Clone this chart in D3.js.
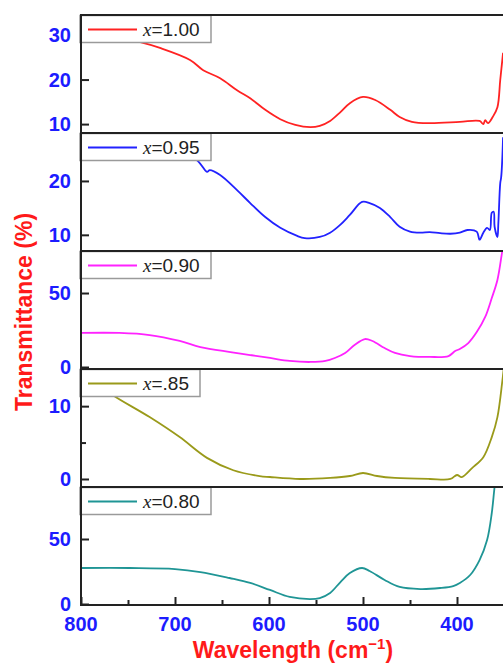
<!DOCTYPE html>
<html>
<head>
<meta charset="utf-8">
<script src="https://cdn.jsdelivr.net/npm/d3@7"></script>
<style>
  body { margin: 0; background: #fff; }
</style>
</head>
<body>
<div id="chart"></div>
<script>
// data: wavelength (cm-1) and transmittance (%)
let wl100 = [800, 770, 737, 716, 684, 670, 652, 634, 620, 604, 588, 572, 556, 546, 535, 524, 514, 500, 487, 471, 461, 448, 429, 397, 376, 372, 370, 367, 362, 357, 354, 351];
let t100  = [30.8, 29.8, 28.4, 27.1, 24.4, 22.1, 20.3, 17.6, 15.8, 13.2, 11.1, 9.8, 9.3, 9.6, 10.7, 12.7, 14.7, 16.1, 15.4, 13.2, 11.6, 10.5, 10.2, 10.5, 10.7, 10.0, 10.9, 10.2, 11.6, 13.8, 19.9, 26.0];

let wl95 = [800, 750, 700, 677, 666, 663, 652, 634, 620, 604, 588, 570, 562, 546, 535, 524, 514, 501, 493, 482, 471, 461, 450, 439, 429, 418, 407, 397, 389, 379, 376, 372, 368, 365, 363, 361, 360, 357, 356, 354, 353, 351];
let t95  = [29.5, 27.6, 25.3, 23.9, 21.7, 22.0, 21.1, 18.3, 15.9, 13.3, 11.3, 9.8, 9.4, 9.6, 10.4, 11.9, 13.7, 16.1, 15.9, 15.0, 13.3, 11.5, 10.6, 10.4, 10.5, 10.3, 10.2, 10.4, 10.9, 10.6, 9.1, 10.4, 11.3, 10.9, 14.1, 14.3, 11.5, 9.6, 12.2, 19.6, 20.7, 28.1];

let wl90 = [800, 759, 727, 695, 673, 641, 620, 599, 578, 556, 540, 530, 519, 509, 498, 490, 477, 466, 450, 429, 409, 402, 397, 388, 379, 370, 363, 357, 352, 350];
let t90  = [23.0, 23.0, 21.6, 17.6, 13.5, 10.1, 8.1, 6.1, 4.1, 3.4, 4.1, 6.1, 9.5, 14.9, 18.9, 17.6, 12.8, 9.5, 7.4, 6.8, 7.4, 10.8, 12.2, 16.2, 23.6, 33.8, 46.6, 58.8, 77.7, 85];

let wl85 = [800, 780, 766, 727, 695, 666, 638, 610, 599, 567, 535, 514, 500, 485, 466, 429, 407, 400, 395, 384, 372, 363, 357, 352, 350];
let t85  = [14.6, 12.9, 11.5, 8.5, 5.75, 2.9, 1.2, 0.4, 0.27, 0.0, 0.14, 0.41, 0.82, 0.41, 0.14, 0.0, 0.0, 0.55, 0.27, 1.5, 3.0, 5.75, 8.5, 13.2, 15.5];

let wl80 = [800, 748, 700, 673, 642, 620, 599, 578, 556, 546, 535, 524, 514, 501, 493, 477, 461, 439, 418, 404, 397, 386, 376, 368, 363, 360, 358];
let t80  = [27.7, 27.7, 26.9, 24.6, 20.0, 16.2, 10.8, 5.4, 3.8, 4.6, 8.5, 16.9, 23.8, 27.7, 25.4, 18.5, 13.1, 11.5, 12.3, 13.8, 16.2, 22.3, 33.8, 49.2, 70.0, 90.0, 100];

let legendLabels = ["=1.00", "=0.95", "=0.90", "=.85", "=0.80"];
let colors = ["#ff2222", "#2222ff", "#ff22ff", "#9a9a1a", "#1f9595"];
let yDomains = [[8, 34.5], [7.0, 28.9], [-1.35, 78.4], [-1.1, 15.1], [-0.77, 90]];
let yMajor = [[10, 20, 30], [10, 20], [0, 50], [0, 10], [0, 50]];
let yMinor = [[], [], [], [5], []];
let xMajor = [800, 700, 600, 500, 400];
let xMinor = [750, 650, 550, 450];

let series = [
  {wl: wl100, t: t100},
  {wl: wl95, t: t95},
  {wl: wl90, t: t90},
  {wl: wl85, t: t85},
  {wl: wl80, t: t80}
];

let svgWidth = 503;
let svgHeight = 663;
let left = 81, right = 504, top0 = 15, panelH = 118;

let svg = d3.select("#chart")
  .append("svg")
  .attr("width", svgWidth)
  .attr("height", svgHeight)
  .style("font-family", "Arial, 'Liberation Sans', sans-serif");

let x = d3.scaleLinear().domain([800, 350]).range([left, right]);

series.forEach(function(s, i) {
  let pTop = top0 + i * panelH;
  let y = d3.scaleLinear().domain(yDomains[i]).range([pTop + panelH, pTop]);

  svg.append("clipPath")
    .attr("id", "clip" + i)
    .append("rect")
    .attr("x", left).attr("y", pTop)
    .attr("width", right - left).attr("height", panelH);

  let pts = s.wl.map((w, k) => [w, s.t[k]]);
  let line = d3.line()
    .x(d => x(d[0]))
    .y(d => y(d[1]))
    .curve(d3.curveCatmullRom.alpha(0.5));

  svg.append("path")
    .datum(pts)
    .attr("clip-path", "url(#clip" + i + ")")
    .attr("fill", "none")
    .attr("stroke", colors[i])
    .attr("stroke-width", 1.8)
    .attr("stroke-linejoin", "round")
    .attr("d", line);

  // y ticks, pointing inward
  let yAxis = d3.axisRight(y).tickValues(yMajor[i]).tickSize(8).tickFormat("");
  svg.append("g").attr("transform", `translate(${left},0)`).call(yAxis)
    .call(g => g.select(".domain").remove())
    .selectAll("line").attr("stroke", "#222").attr("stroke-width", 2);
  if (yMinor[i].length) {
    svg.append("g").attr("transform", `translate(${left},0)`)
      .call(d3.axisRight(y).tickValues(yMinor[i]).tickSize(5).tickFormat(""))
      .call(g => g.select(".domain").remove())
      .selectAll("line").attr("stroke", "#222").attr("stroke-width", 2);
  }
  svg.append("g")
    .selectAll("text")
    .data(yMajor[i])
    .enter()
    .append("text")
    .attr("x", 71)
    .attr("y", d => y(d) + 7)
    .attr("text-anchor", "end")
    .attr("font-size", 20)
    .attr("font-weight", "bold")
    .attr("fill", "#1c1cff")
    .text(d => d);

  // legend box
  let lg = svg.append("g").attr("transform", `translate(${left - 1},${pTop})`);
  let lw = i === 3 ? 120 : 131;
  lg.append("rect")
    .attr("x", 0).attr("y", 0.5)
    .attr("width", lw).attr("height", 27)
    .attr("fill", "#fff")
    .attr("stroke", "#9a9a9a")
    .attr("stroke-width", 1.5);
  lg.append("line")
    .attr("x1", 8).attr("x2", 57)
    .attr("y1", 14.5).attr("y2", 14.5)
    .attr("stroke", colors[i])
    .attr("stroke-width", 1.8);
  let lt = lg.append("text")
    .attr("x", 63).attr("y", 21)
    .attr("font-size", 19)
    .attr("fill", "#222");
  lt.append("tspan")
    .attr("font-family", "'Liberation Serif', 'Times New Roman', serif")
    .attr("font-style", "italic")
    .text("x");
  lt.append("tspan").text(legendLabels[i]);

  // frame
  svg.append("rect")
    .attr("x", left).attr("y", pTop)
    .attr("width", right - left).attr("height", panelH)
    .attr("fill", "none")
    .attr("stroke", "#222")
    .attr("stroke-width", 2);
});

// bottom x axis
let bottom = top0 + 5 * panelH;
svg.append("g")
  .attr("transform", `translate(0,${bottom})`)
  .call(d3.axisTop(x).tickValues(xMajor).tickSize(8).tickFormat(""))
  .call(g => g.select(".domain").remove())
  .selectAll("line").attr("stroke", "#222").attr("stroke-width", 2);
svg.append("g")
  .attr("transform", `translate(0,${bottom})`)
  .call(d3.axisTop(x).tickValues(xMinor).tickSize(5).tickFormat(""))
  .call(g => g.select(".domain").remove())
  .selectAll("line").attr("stroke", "#222").attr("stroke-width", 2);

svg.append("g")
  .selectAll("text")
  .data(xMajor)
  .enter()
  .append("text")
  .attr("x", d => x(d))
  .attr("y", bottom + 26)
  .attr("text-anchor", "middle")
  .attr("font-size", 20)
  .attr("font-weight", "bold")
  .attr("fill", "#1c1cff")
  .text(d => d);

// axis titles
let xt = svg.append("text")
  .attr("x", 293)
  .attr("y", 658)
  .attr("text-anchor", "middle")
  .attr("font-size", 23)
  .attr("font-weight", "bold")
  .attr("fill", "#ff1a1a");
xt.append("tspan").text("Wavelength (cm");
xt.append("tspan").attr("font-size", 15).attr("dy", -9).text("\u22121");
xt.append("tspan").attr("dy", 9).text(")");

svg.append("text")
  .attr("transform", "translate(32,312) rotate(-90)")
  .attr("text-anchor", "middle")
  .attr("font-size", 23)
  .attr("font-weight", "bold")
  .attr("fill", "#ff1a1a")
  .text("Transmittance (%)");
</script>
</body>
</html>
